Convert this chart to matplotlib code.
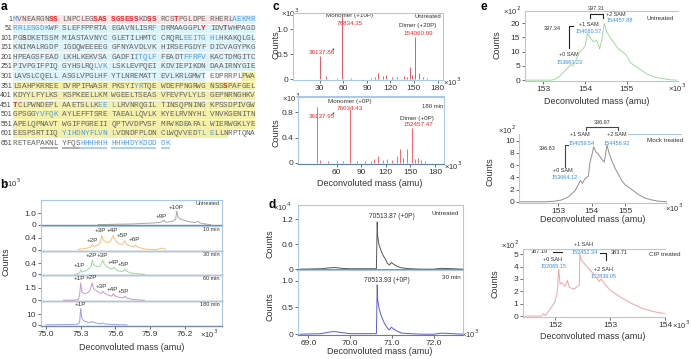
import matplotlib
matplotlib.use("Agg")
import matplotlib.pyplot as plt

plt.rcParams['font.family'] = ['Liberation Sans', 'DejaVu Sans']

W, H = 691, 359

# ---------------- panel a: sequence ----------------
seq_lines = [
    "MVNEARGNSS LNPCLEGSAS SGSESSKDSS RCSTPGLDPE RHERLAEKMR",
    "RRLESGDKWF SLEFFPPRTA EGAVNLISRF DRMAAGGPLY IDVTWHPAGD",
    "PGSDKETSSM MIASTAVNYC GLETILHMTC CRQRLEEITG HLHKAKQLGL",
    "KNIMALRGDP IGDQWEEEEG GFNYAVDLVK HIRSEFGDYF DICVAGYPKG",
    "HPEAGSFEAD LKHLKEKVSA GADFIITQLF FEADTFFRFV KACTDMGITC",
    "PIVPGIFPIQ GYHSLRQLVK LSKLEVPQEI KDVIEPIKDN DAAIRNYGIE",
    "LAVSLCQELL ASGLVPGLHF YTLNREMATT EVLKRLGMWT EDPRRPLPWA",
    "LSAHPKRREE DVRPIFWASR PKSYIYRTQE WDEFPNGRWG NSSSPAFGEL",
    "KDYYLFYLKS KSPKEELLKM WGEELTSEAS VFEVFVLYLS GEPNRNGHKV",
    "TCLPWNDEPL AAETSLLKEE LLRVNRQGIL TINSQPNING KPSSDPIVGW",
    "GPSGGYVFQK AYLEFFTSRE TAEALLQVLK KYELRVNYHL VNVKGENITN",
    "APELQPNAVT WGIFPGREII QPTVVDPVSF MFWKDEAFAL WIERWGKLYE",
    "EESPSRTIIQ YIHDNYFLVN LVDNDFPLDN CLWQVVEDTL ELLNRPTQNA",
    "RETEAPAKNL YFQSHHHHHH HHHHDYKDDD DK",
]
red_res = [9, 10, 18, 19, 20, 21, 22, 23, 24, 25, 26, 29, 30, 34, 90, 94, 103, 394, 451]
blue_res = ([1] + list(range(46, 59)) + [80] + list(range(136, 143)) + list(range(226, 231))
            + list(range(236, 241)) + list(range(268, 271)) + [376, 377, 469, 470, 471]
            + list(range(506, 511)) + list(range(611, 622)) + [639, 640, 641] + list(range(665, 683)))
grey_underline = list(range(657, 665))
blue_underline = list(range(665, 683))
bg_runs = [(1, 45, '#fee6e6'), (46, 340, '#dcf3f9'), (348, 644, '#f4efa9')]


def res_xy(r):
    k = (r - 1) % 50
    line = (r - 1) // 50
    return 15 + (k // 10 * 11 + k % 10) * 4.48, 19.3 + line * 9.54


# ---------------- panel b ----------------
b_names = ['Untreated', '10 min', '30 min', '60 min', '180 min']
b_colors = ['#a8a8a8', '#f5c07c', '#9ddb9d', '#c89cc8', '#9d9de6']
b_mass = [
    [75.45, 75.55, 75.65, 75.75, 75.82, 75.88, 75.93, 75.98, 76.0, 76.02, 76.03, 76.05, 76.08, 76.1,
     76.12, 76.13, 76.14, 76.16, 76.19, 76.22, 76.26, 76.29, 76.31, 76.33, 76.36, 76.42],
    [75.28, 75.33, 75.37, 75.39, 75.40, 75.42, 75.45, 75.47, 75.48, 75.50, 75.53, 75.56, 75.58, 75.60,
     75.63, 75.66, 75.68, 75.70, 75.73, 75.76, 75.77, 75.79, 75.83, 75.87, 75.95, 76.01, 76.03],
    [75.25, 75.28, 75.29, 75.30, 75.31, 75.34, 75.37, 75.39, 75.40, 75.41, 75.44, 75.47, 75.49, 75.50,
     75.52, 75.55, 75.57, 75.59, 75.60, 75.62, 75.65, 75.67, 75.68, 75.70, 75.73, 75.78, 75.85],
    [75.15, 75.25, 75.28, 75.29, 75.30, 75.31, 75.33, 75.36, 75.38, 75.40, 75.41, 75.43, 75.46, 75.48,
     75.49, 75.51, 75.54, 75.57, 75.58, 75.60, 75.63, 75.67, 75.68, 75.70, 75.75, 75.85],
    [75.0, 75.1, 75.2, 75.27, 75.29, 75.30, 75.31, 75.33, 75.36, 75.38, 75.40, 75.42, 75.45, 75.48,
     75.49, 75.51, 75.55, 75.6, 75.7],
]
b_counts = [
    [0, 0.02, 0.04, 0.06, 0.1, 0.12, 0.15, 0.2, 0.25, 0.4, 0.25, 0.22, 0.28, 0.32, 0.5, 1.22, 0.7,
     0.5, 0.4, 0.3, 0.22, 0.2, 0.3, 0.15, 0.08, 0],
    [0, 0.03, 0.06, 0.1, 0.16, 0.1, 0.15, 0.25, 0.47, 0.3, 0.22, 0.3, 0.48, 0.3, 0.2, 0.18, 0.3,
     0.16, 0.12, 0.1, 0.15, 0.09, 0.04, 0.01, 0, 0.05, 0],
    [0, 0.02, 0.05, 0.16, 0.08, 0.12, 0.2, 0.3, 0.52, 0.35, 0.28, 0.3, 0.52, 0.4, 0.3, 0.22, 0.2,
     0.25, 0.18, 0.12, 0.1, 0.12, 0.18, 0.1, 0.05, 0.02, 0],
    [0, 0.02, 0.1, 0.6, 2.1, 1.0, 0.8, 0.9, 1.2, 2.1, 1.4, 1.2, 0.9, 0.8, 1.1, 0.8, 0.6, 0.5, 0.8,
     0.5, 0.35, 0.3, 0.5, 0.25, 0.1, 0],
    [0, 0.2, 0.3, 0.6, 2, 15.3, 6, 3.5, 2.5, 2.2, 3, 2, 1.2, 1.0, 1.8, 0.8, 0.5, 0.2, 0],
]
b_ylim = [(-0.08, 2.2), (-0.04, 0.82), (-0.04, 0.86), (-0.12, 3.0), (-0.8, 21.9)]
b_yticks = [[0, 1.0], [0, 0.4], [0, 0.4], [0, 1.5], [0, 10]]
b_yticklabels = [['0', '1.0'], ['0', '0.4'], ['0', '0.4'], ['0', '1.5'], ['0', '10']]
b_peak_labels = [
    [('+9P', 76.0, 0.5), ('+10P', 76.12, 1.35)],
    [('+2P', 75.40, 0.22), ('+3P', 75.47, 0.56), ('+4P', 75.57, 0.58), ('+5P', 75.66, 0.38), ('+6P', 75.76, 0.24)],
    [('+1P', 75.29, 0.24), ('+2P', 75.39, 0.6), ('+3P', 75.49, 0.6), ('+4P', 75.58, 0.34), ('+5P', 75.67, 0.27)],
    [('+1P', 75.29, 2.3), ('+2P', 75.39, 2.4), ('+3P', 75.48, 1.4), ('+4P', 75.57, 1.05), ('+5P', 75.67, 0.75)],
    [('+1P', 75.30, 16.5)],
]

# ---------------- panel c (positions) ----------------
c_top_mass = [30.5, 38, 52, 59, 70, 95, 100, 104, 110, 115, 122, 128, 137, 141, 144.6, 148, 151.5,
              157, 162, 166]
c_top_counts = [0.46, 0.06, 0.02, 1.27, 0.03, 0.03, 0.04, 0.13, 0.06, 0.09, 0.04, 0.04, 0.06, 0.04,
                0.25, 0.08, 0.85, 0.12, 0.05, 0.03]
c_bot_mass = [36.14, 40, 50, 60, 68, 76.03, 85, 95, 102, 106, 110, 116, 122, 128, 134, 137, 141,
              145.5, 152.46, 156, 159, 163, 168]
c_bot_counts = [0.88, 0.04, 0.02, 0.03, 0.03, 0.85, 0.03, 0.02, 0.03, 0.06, 0.1, 0.04, 0.06, 0.05,
                0.1, 0.22, 0.08, 0.22, 0.55, 0.06, 0.07, 0.05, 0.03]

# ---------------- panel d ----------------
d_mass = [68.8, 69.3, 69.5, 69.62, 69.8, 70.0, 70.3, 70.63, 70.65, 70.66, 70.69, 70.74, 70.79, 70.84,
          70.89, 70.94, 70.99, 71.04, 71.14, 71.24, 71.44, 71.7, 72.0, 72.2, 72.7]
d_untreated = [0, 0.01, 0.03, 0.04, 0.02, 0.01, 0.01, 0.01, 1.13, 0.8, 0.6, 0.45, 0.33, 0.25, 0.15,
               0.1, 0.16, 0.12, 0.06, 0.03, 0.01, 0, 0.0, 0.02, 0]
d_30min = [0, 0.01, 0.04, 0.05, 0.03, 0.01, 0.01, 0.01, 0.92, 0.65, 0.5, 0.36, 0.26, 0.18, 0.12,
           0.08, 0.13, 0.1, 0.05, 0.02, 0.01, 0, 0.0, 0.02, 0]

# ---------------- panel e ----------------
e_un_mass = [152.6, 153.2, 153.3, 153.4, 153.5, 153.6, 153.66, 153.7, 153.75, 153.85, 153.95, 154.0,
             154.06, 154.12, 154.2, 154.28, 154.35, 154.4, 154.46, 154.52, 154.6, 154.7, 154.8, 154.9,
             155.0, 155.1, 155.2, 155.35, 155.5, 155.7, 156.0, 156.2]
e_un_counts = [0, 0, 0.5, 1.5, 3, 4.5, 5.5, 5, 6, 9.5, 11, 12, 16.5, 15, 13.5, 14, 11, 14, 20, 17, 15,
               13, 11, 10, 8.5, 6, 5, 3.5, 2, 1, 0.2, 0]
e_mock_mass = [151.8, 152.6, 152.9, 153.1, 153.3, 153.5, 153.6, 153.66, 153.72, 153.8, 153.9, 153.95,
               154.0, 154.06, 154.12, 154.2, 154.3, 154.38, 154.46, 154.52, 154.6, 154.7, 154.8,
               154.9, 155.0, 155.2, 155.4, 155.6, 155.8, 156.0, 156.25]
e_mock_counts = [0, 0, 0.1, 0.3, 0.8, 1.8, 2.8, 3.5, 3.0, 3.8, 4.2, 6.5, 7.5, 9.0, 8.2, 7.8, 7.0, 6.5,
                 9.3, 8.0, 6.8, 5.5, 4.5, 3.5, 2.8, 2.0, 1.2, 0.6, 0.3, 0.1, 0]
e_cip_mass = [151.45, 151.75, 151.78, 151.82, 151.9, 152.0, 152.04, 152.065, 152.09, 152.12, 152.18,
              152.22, 152.26, 152.35, 152.44, 152.45, 152.47, 152.52, 152.6, 152.7, 152.8, 152.84,
              152.9, 153.0, 153.2, 153.4, 153.6, 153.8, 154.0]
e_cip_counts = [0, 0, 0.2, 0.05, 0.5, 1.2, 2.0, 3.8, 2.6, 2.7, 2.4, 2.9, 2.3, 2.2, 2.5, 5.1, 4.6, 4.3,
                3.9, 3.4, 2.8, 3.0, 2.6, 2.1, 1.5, 1.0, 0.6, 0.35, 0.2]

SPINE = '#a9c9ea'
DARK = '#333333'
RED = '#e8282b'
BLUE = '#3b8ed6'

fig = plt.figure(figsize=(W / 100, H / 100), dpi=100)
ov = fig.add_axes([0, 0, 1, 1])
ov.set_xlim(0, W)
ov.set_ylim(H, 0)
ov.axis('off')


def ax_at(l, t, r, b):
    ax = fig.add_axes([l / W, 1 - b / H, (r - l) / W, (b - t) / H])
    ax.patch.set_alpha(0)
    for s in ax.spines.values():
        s.set_color(SPINE)
        s.set_linewidth(0.8)
    ax.tick_params(labelsize=6, length=2, width=0.5, pad=1.5, colors=DARK)
    return ax


def txt(x, y, s, size=5, **kw):
    kw.setdefault('ha', 'center')
    kw.setdefault('va', 'center')
    kw.setdefault('color', DARK)
    ov.text(x, y, s, fontsize=size, **kw)


# panel letters
for lab, x, y in [('a', 4, 0.5), ('b', 4, 179), ('c', 276, 0.5), ('d', 272, 199), ('e', 484, 0.5)]:
    txt(x, y, lab, 8.5, fontweight='bold', color='black', va='top')

# ---- a
for a0, a1, col in bg_runs:
    r = a0
    while r <= a1:
        line_end = ((r - 1) // 50 + 1) * 50
        e = min(a1, line_end)
        x0, y0 = res_xy(r)
        x1, _ = res_xy(e)
        ov.add_patch(plt.Rectangle((x0 - 2.3, y0 - 4.3), x1 - x0 + 4.6, 8.6, color=col, lw=0))
        r = e + 1
for i, line in enumerate(seq_lines):
    n = i * 50 + 1
    txt(12, 19.3 + i * 9.54, str(n), 5, ha='right', color='#444444')
    k = 0
    for ch in line:
        if ch == ' ':
            continue
        r = n + k
        x, y = res_xy(r)
        col, fw = '#666666', 'normal'
        if r in red_res:
            col, fw = RED, 'bold'
        elif r in blue_res:
            col = '#55a0dc'
        ov.text(x, y, ch, fontsize=5.6, family='Liberation Mono', ha='center', va='center',
                color=col, fontweight=fw)
        if r in grey_underline or r in blue_underline:
            c = '#aaaaaa' if r in grey_underline else '#a8cdea'
            ov.plot([x - 2.3, x + 2.3], [y + 4.6, y + 4.6], color=c, lw=1.3, solid_capstyle='butt')
        k += 1

# ---- b
b_tops = [200, 225.5, 250.7, 275.3, 301.3, 325.7]
for i in range(5):
    ax = ax_at(41, b_tops[i], 222, b_tops[i + 1])
    ax.plot(b_mass[i], b_counts[i], color=b_colors[i], lw=0.7)
    ax.set_xlim(74.957, 76.52)
    ax.set_ylim(*b_ylim[i])
    ax.set_yticks(b_yticks[i])
    ax.set_yticklabels(b_yticklabels[i])
    ax.spines['bottom'].set_color('#6f8aa6')
    ax.spines['bottom'].set_linewidth(1.0)
    if i < 4:
        ax.set_xticks([])
    else:
        ax.set_xticks([75.0, 75.3, 75.6, 75.9, 76.2])
        ax.set_xticklabels(['75.0', '75.3', '75.6', '75.9', '76.2'])
    ax.text(0.985, 0.86, b_names[i], transform=ax.transAxes, fontsize=4, ha='right', va='center',
            color=DARK)
    for lab, mx, my in b_peak_labels[i]:
        ax.text(mx, my, lab, fontsize=4.5, ha='center', va='bottom', color=DARK)
txt(12, 183, r'×10$^5$', 5.5)
txt(209, 334, r'×10$^3$', 5.5)
txt(6, 262, 'Counts', 6.5, rotation=90)
txt(132, 348, 'Deconvoluted mass (amu)', 6.5)

# ---- c
axc1 = ax_at(293, 12.7, 443, 80)
axc1.vlines(c_top_mass, 0, c_top_counts, color='#d9434b', lw=0.6)
axc1.set_xlim(-4, 187)
axc1.set_ylim(-0.02, 1.33)
axc1.set_xticks([30, 60, 90, 120, 150, 180])
axc1.set_yticks([0, 0.5, 1.0])
axc1.set_yticklabels(['0', '0.5', '1.0'])
axc2 = ax_at(298, 96.7, 444, 164)
axc2.vlines(c_bot_mass, 0, c_bot_counts, color='#f0505a', lw=0.6)
axc2.set_xlim(12.8, 191)
axc2.set_ylim(-0.02, 1.05)
axc2.set_xticks([60, 90, 120, 150, 180])
axc2.set_yticks([0, 0.4, 0.8])
axc2.set_yticklabels(['0', '0.4', '0.8'])
axc2.spines['bottom'].set_color('#5a7fb0')
axc2.spines['top'].set_linewidth(1.5)
txt(290, 13, r'×10$^3$', 5.5)
txt(291, 98, r'×10$^3$', 5.5)
txt(452, 82, r'×10$^3$', 5.5)
txt(453, 166, r'×10$^3$', 5.5)
txt(276, 45, 'Counts', 6.5, rotation=90)
txt(276, 133, 'Counts', 6.5, rotation=90)
txt(370, 183, 'Deconvoluted mass (amu)', 6.5)
txt(350, 15, 'Monomer (+10P)', 4.5)
txt(350, 23.3, '76834.35', 4.5, color=RED)
txt(428, 16, 'Untreated', 4.3)
txt(418, 26, 'Dimer (+20P)', 4.5)
txt(418, 33.3, '154060.99', 4.5, color=RED)
txt(321.7, 52.7, '36137.86', 4.5, color=RED)
txt(333, 50.5, '*', 5)
txt(350, 101, 'Monomer (+0P)', 4.5)
txt(350, 108.3, '76034.43', 4.5, color=RED)
txt(432.7, 106, '180 min', 4.3)
txt(416.7, 118.3, 'Dimer (+0P)', 4.5)
txt(418.3, 125, '152457.47', 4.5, color=RED)
txt(321.7, 116.7, '36137.95', 4.5, color=RED)
txt(333, 114.5, '*', 5)

# ---- d
axd1 = ax_at(298, 205, 462.7, 270)
axd1.plot(d_mass, d_untreated, color='#555555', lw=0.7)
axd1.set_xlim(68.75, 72.7)
axd1.set_ylim(-0.02, 1.54)
axd1.set_xticks([])
axd1.set_yticks([0, 0.6, 1.2])
axd1.set_yticklabels(['0', '0.6', '1.2'])
axd1.spines['bottom'].set_color('#5a7fb0')
axd1.spines['bottom'].set_linewidth(1.2)
axd2 = ax_at(298, 270, 462.7, 335)
axd2.plot(d_mass, d_30min, color='#5b5bd8', lw=0.7)
axd2.set_xlim(68.75, 72.7)
axd2.set_ylim(-0.015, 1.2)
axd2.set_xticks([69.0, 70.0, 71.0, 72.0])
axd2.set_xticklabels(['69.0', '70.0', '71.0', '72.0'])
axd2.set_yticks([0, 0.5, 1.0])
axd2.set_yticklabels(['0', '0.5', '1.0'])
axd2.spines['bottom'].set_color('#5a7fb0')
txt(282, 206.7, r'×10$^4$', 5.5)
txt(470, 334, r'×10$^3$', 5.5)
txt(270, 243.3, 'Counts', 6.5, rotation=90)
txt(270, 306.7, 'Counts', 6.5, rotation=90)
txt(380, 352, 'Deconvoluted mass (amu)', 6.5)
txt(391.7, 216, '70513.87 (+0P)', 4.8)
txt(445, 213.3, 'Untreated', 4.5)
txt(386.7, 280, '70513.93 (+0P)', 4.8)
txt(451.7, 277.3, '30 min', 4.5)

# ---- e
axe1 = ax_at(525, 10.7, 678, 81)
axe1.plot(e_un_mass, e_un_counts, color='#a2daa2', lw=0.7)
axe1.set_xlim(152.56, 156.23)
axe1.set_ylim(-0.3, 24.4)
axe1.set_xticks([153, 154, 155])
axe1.set_yticks([0, 5, 10, 15, 20])
axe2 = ax_at(519.3, 134, 666.7, 203.3)
axe2.plot(e_mock_mass, e_mock_counts, color='#8f8f8f', lw=0.7)
axe2.set_xlim(151.83, 156.25)
axe2.set_ylim(-0.25, 11.1)
axe2.set_xticks([153, 154, 155])
axe2.set_yticks([0, 2, 4, 6, 8, 10])
axe2.spines['top'].set_visible(False)
ov.plot([628, 681], [134, 134], color=SPINE, lw=0.8)
axe3 = ax_at(523.3, 249.3, 665, 317.3)
axe3.plot(e_cip_mass, e_cip_counts, color='#f4a3a3', lw=0.7)
axe3.set_xlim(151.42, 154.0)
axe3.set_ylim(-0.1, 5.4)
axe3.set_xticks([152, 153, 154])
axe3.set_yticks([0, 1, 2, 3, 4, 5])
for ax in (axe1, axe2, axe3):
    ax.spines['right'].set_visible(False)

for cx, cy, xy_, lx, ly in [(497, 45, (512, 10.7), 597, 101.7), (490, 171.7, (507, 130), 593, 220),
                            (495, 283.3, (510, 245), 593, 336.7)]:
    txt(cx, cy, 'Counts', 6.5, rotation=90)
    txt(xy_[0], xy_[1], r'×10$^2$', 5.5)
    txt(lx, ly, 'Deconvoluted mass (amu)', 6.5)
txt(677, 88.3, r'×10$^3$', 5.5)
txt(674, 208.3, r'×10$^3$', 5.5)
txt(681, 325, r'×10$^3$', 5.5)

# e untreated annotations
txt(660, 18.3, 'Untreated', 4.5)
txt(569.3, 55, '+0 SAM', 4)
txt(569.3, 62.3, '153663.23', 4, color=BLUE)
txt(589, 25, '+1 SAM', 4)
txt(588.3, 31.3, '154060.57', 4, color=BLUE)
txt(616, 15, '+2 SAM', 4)
txt(620, 21, '154457.88', 4, color=BLUE)
txt(561, 28.3, '397.34', 4, ha='right')
ov.plot([569.3, 569.3, 573], [48.3, 26, 26], color='#222222', lw=0.8)
txt(596, 8.3, '397.31', 4)
ov.plot([590, 590, 603.3, 603.3], [18, 14, 14, 18], color='#222222', lw=0.8)

# e mock annotations
txt(665, 140.7, 'Mock treated', 4.5)
txt(602, 122.3, '396.97', 4)
ov.plot([586, 586, 618.3, 618.3], [130, 126.7, 126.7, 130], color='#444444', lw=0.8)
txt(580, 135, '+1 SAM', 4)
txt(616.7, 135, '+2 SAM', 4)
txt(581.7, 143.3, '154059.54', 4, color=BLUE)
txt(616.7, 143.3, '154458.92', 4, color=BLUE)
txt(556, 148.3, '396.83', 4, ha='right')
ov.plot([565, 565, 568], [166.7, 145, 145], color='#444444', lw=0.8)
txt(563.3, 170, '+0 SAM', 4)
txt(565, 177.3, '153664.12', 4, color=BLUE)

# e CIP annotations
txt(665, 255, 'CIP treated', 4.5)
txt(548, 251.7, '387.19', 4, ha='right')
ov.plot([553, 562], [251.7, 251.7], color='#222222', lw=0.8)
txt(583.3, 245, '+1 SAH', 4)
txt(585, 252.7, '152452.34', 4, color=BLUE)
txt(611, 252.7, '383.71', 4, ha='left')
ov.plot([600, 606, 606], [252.7, 252.7, 260], color='#222222', lw=0.8)
txt(552.7, 259.3, '+0 SAH', 4)
txt(553.3, 266.7, '152065.15', 4, color=BLUE)
txt(604, 269.3, '+2 SAH', 4)
txt(604, 276, '152836.05', 4, color=BLUE)

fig.savefig('out.png', dpi=100)
